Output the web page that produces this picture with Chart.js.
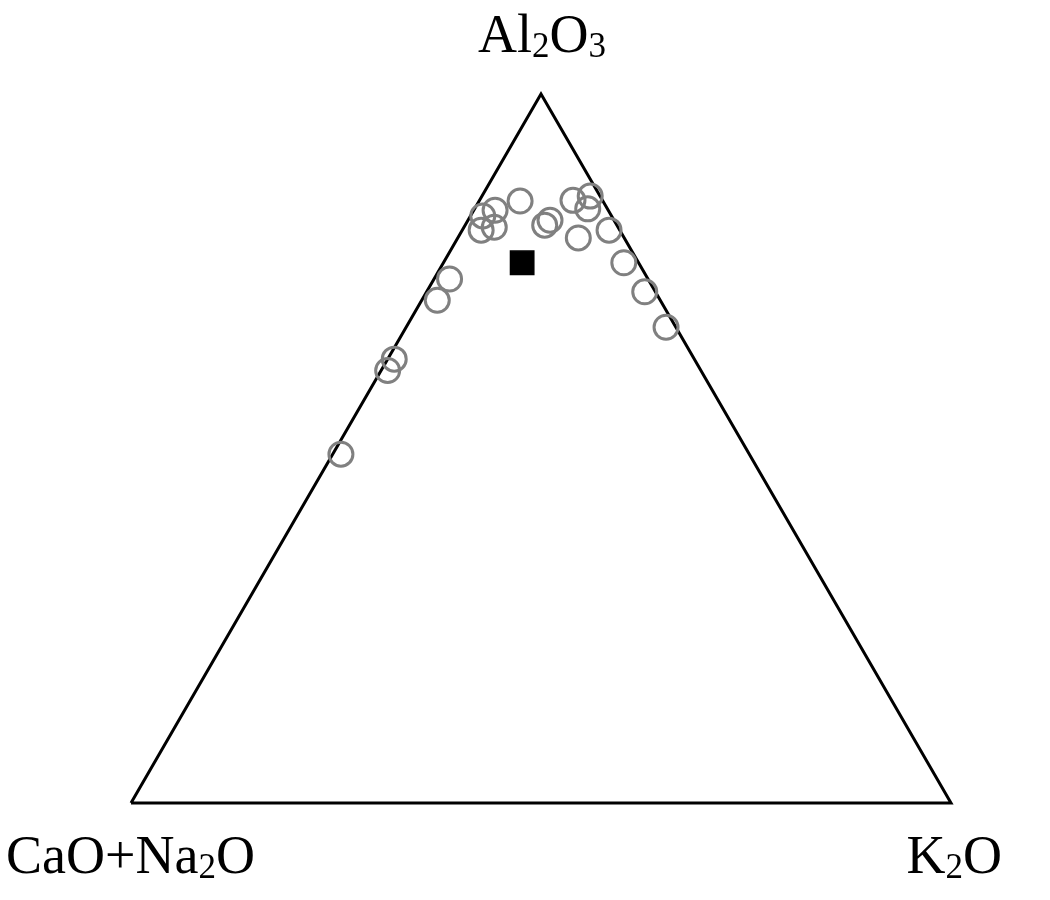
<!DOCTYPE html>
<html>
<head>
<meta charset="utf-8">
<script src="https://cdn.jsdelivr.net/npm/chart.js@4.4.0/dist/chart.umd.min.js"></script>
<style>
  html, body { margin: 0; padding: 0; background: #fff; }
  canvas { display: block; }
</style>
</head>
<body>
<canvas id="ternaryChart" width="1050" height="900"></canvas>
<script>
// ternary compositions in %: Al2O3, CaO+Na2O, K2O
const samplesAl  = [82.8, 83.6, 80.8, 81.2, 84.9, 81.5, 82.2, 85.0, 85.6, 83.8, 79.7, 80.8, 76.2, 72.1, 67.1, 73.9, 70.9, 62.6, 61.0, 49.2];
const samplesCN  = [15.7, 13.8, 16.9, 15.1, 10.1,  8.8,  7.8,  3.6,  1.2,  2.4,  5.6,  1.3,  1.8,  1.3,  1.2, 24.2, 27.2, 36.6, 38.2, 49.8];
const samplesK   = [ 1.5,  2.6,  2.3,  3.7,  5.0,  9.7, 10.0, 11.4, 13.2, 13.8, 14.7, 17.9, 22.0, 26.6, 31.7,  1.9,  1.9,  0.8,  0.8,  1.0];
const refAl = [76.2];
const refCN = [14.2];
const refK  = [9.6];

const vertexLabels = [
  { parts: [['Al', false], ['2', true], ['O', false], ['3', true]], x: 0.5, y: Math.sqrt(3) / 2, align: 'center' },
  { parts: [['CaO+Na', false], ['2', true], ['O', false]], x: 0, y: 0, align: 'left' },
  { parts: [['K', false], ['2', true], ['O', false]], x: 1, y: 0, align: 'right' }
];

const H = Math.sqrt(3) / 2;

// ternary -> cartesian (CaO+Na2O at left, K2O at right, Al2O3 on top)
function toXY(al, cn, k) {
  const s = al + cn + k;
  const a = al / s, kk = k / s;
  return { x: kk + a / 2, y: a * H };
}

const samplePts = samplesAl.map((a, i) => toXY(a, samplesCN[i], samplesK[i]));
const refPts = refAl.map((a, i) => toXY(a, refCN[i], refK[i]));
const outline = [toXY(0, 100, 0), toXY(0, 0, 100), toXY(100, 0, 0), toXY(0, 100, 0)];

const labelPlugin = {
  id: 'vertexLabels',
  afterDraw(chart) {
    const c = chart.ctx;
    const xs = chart.scales.x, ys = chart.scales.y;
    const big = 'normal 54px "Liberation Serif", "Times New Roman", serif';
    const small = 'normal 35px "Liberation Serif", "Times New Roman", serif';
    c.save();
    c.fillStyle = '#000';
    c.textBaseline = 'alphabetic';
    c.textAlign = 'left';
    vertexLabels.forEach(lb => {
      let w = 0;
      lb.parts.forEach(p => { c.font = p[1] ? small : big; w += c.measureText(p[0]).width; });
      const px = xs.getPixelForValue(lb.x);
      const py = ys.getPixelForValue(lb.y);
      let x0, base;
      if (lb.align === 'center') { x0 = px - w / 2 + 1; base = py - 42; }
      else if (lb.align === 'left') { x0 = 6; base = py + 70; }
      else { x0 = 1002 - w; base = py + 70; }
      lb.parts.forEach(p => {
        c.font = p[1] ? small : big;
        c.fillText(p[0], x0, base + (p[1] ? 5 : 0));
        x0 += c.measureText(p[0]).width;
      });
    });
    c.restore();
  }
};

new Chart(document.getElementById('ternaryChart').getContext('2d'), {
  type: 'scatter',
  data: {
    datasets: [
      {
        label: 'outline',
        data: outline,
        showLine: true,
        clip: false,
        borderColor: '#000',
        borderWidth: 3,
        borderJoinStyle: 'miter',
        pointRadius: 0,
        fill: false,
        order: 3
      },
      {
        label: 'samples',
        data: samplePts,
        clip: false,
        pointStyle: 'circle',
        pointRadius: 12,
        borderColor: '#808080',
        borderWidth: 3,
        backgroundColor: 'rgba(0,0,0,0)',
        order: 2
      },
      {
        label: 'reference',
        data: refPts,
        clip: false,
        pointStyle: 'rect',
        pointRadius: 16.5,
        borderColor: '#000',
        borderWidth: 1.5,
        borderJoinStyle: 'round',
        backgroundColor: '#000',
        order: 1
      }
    ]
  },
  options: {
    responsive: false,
    animation: false,
    layout: { padding: { left: 131, right: 99, top: 94, bottom: 97 } },
    plugins: { legend: { display: false }, tooltip: { enabled: false } },
    scales: {
      x: { type: 'linear', min: 0, max: 1, display: false },
      y: { type: 'linear', min: 0, max: H, display: false }
    }
  },
  plugins: [labelPlugin]
});
</script>
</body>
</html>
